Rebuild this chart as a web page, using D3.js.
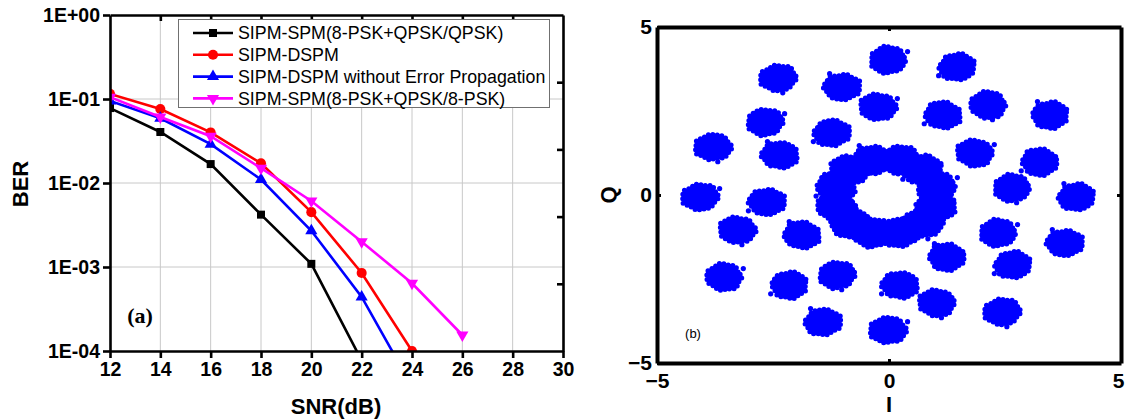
<!DOCTYPE html>
<html>
<head>
<meta charset="utf-8">
<script src="https://cdn.jsdelivr.net/npm/d3@7"></script>
<style>
  body { margin: 0; background: #fff; }
  svg { display: block; font-family: "Liberation Sans", Arial, sans-serif; }
</style>
</head>
<body>
<svg id="chart" width="1125" height="420"></svg>
<script>
// ---- panel (a): BER vs SNR ----
var snr = [12, 14, 16, 18, 20, 22, 24, 26];
var berSpmQpsk  = [7.8e-2, 4.05e-2, 1.68e-2, 4.2e-3, 1.09e-3, 7.7e-5];
var berDspm     = [1.15e-1, 7.6e-2, 4.0e-2, 1.72e-2, 4.5e-3, 8.5e-4, 1.0e-4];
var berDspmNoEP = [9.5e-2, 5.9e-2, 2.9e-2, 1.1e-2, 2.7e-3, 4.4e-4, 3.8e-5];
var berSpm8psk  = [1.05e-1, 6.1e-2, 3.6e-2, 1.5e-2, 6.1e-3, 2.0e-3, 6.4e-4, 1.55e-4];
var seriesNames = [
  "SIPM-SPM(8-PSK+QPSK/QPSK)",
  "SIPM-DSPM",
  "SIPM-DSPM without Error Propagation",
  "SIPM-SPM(8-PSK+QPSK/8-PSK)"
];
var xTicks = [12, 14, 16, 18, 20, 22, 24, 26, 28, 30];
var yTicks = [1e-4, 1e-3, 1e-2, 1e-1, 1];
var yTickLabels = ["1E-04", "1E-03", "1E-02", "1E-01", "1E+00"];

// ---- panel (b): constellation cluster centres (I, Q) ----
var outerI = [-0.02, 1.47, -2.39, -1.01, -0.24, 1.16, 2.13, 3.47, -2.67, -1.23, -3.79, -2.35, 1.85, 3.25, 2.65, 4.04,
              -4.07, -2.63, -3.27, -1.88, -3.56, -2.15, -1.12, -1.42, -0.02, 0.24, 1.03, 1.25, 2.35, 2.67, 2.44, 3.79];
var outerQ = [4.02, 3.81, 3.48, 3.21, 2.62, 2.38, 2.68, 2.38, 2.17, 1.85, 1.43, 1.19, 1.25, 0.98, 0.21, -0.06,
              -0.06, -0.21, -1.04, -1.19, -2.44, -2.68, -2.38, -3.78, -4.02, -2.68, -3.21, -1.85, -1.13, -2.08, -3.48, -1.43];
var innerI = [1.02, 0.73, 0.23, -0.35, -0.85, -1.14, -1.14, -0.85, -0.35, 0.23, 0.73, 1.02];
var innerQ = [0.25, 0.75, 1.04, 1.04, 0.75, 0.25, -0.33, -0.83, -1.12, -1.12, -0.83, -0.33];
var constTicks = [-5, 0, 5];

var svg = d3.select("#chart");

// ================= panel (a) =================
var x = d3.scaleLinear().domain([12, 30]).range([110, 563]);
var y = d3.scaleLog().domain([1e-4, 1]).range([351, 15]);

var ga = svg.append("g");

// grid
ga.append("g").selectAll("line.vg")
  .data(xTicks.slice(1, -1)).enter().append("line")
  .attr("x1", function(d) { return x(d); }).attr("x2", function(d) { return x(d); })
  .attr("y1", y(1)).attr("y2", y(1e-4))
  .attr("stroke", "#c8c8c8").attr("stroke-width", 1);
ga.append("g").selectAll("line.hg")
  .data(yTicks.slice(1, -1)).enter().append("line")
  .attr("x1", x(12)).attr("x2", x(30))
  .attr("y1", function(d) { return y(d); }).attr("y2", function(d) { return y(d); })
  .attr("stroke", "#c8c8c8").attr("stroke-width", 1);

svg.append("defs").append("clipPath").attr("id", "clipA")
  .append("rect").attr("x", x(12)).attr("y", y(1)).attr("width", x(30) - x(12)).attr("height", y(1e-4) - y(1));

var series = [
  { name: seriesNames[0], values: berSpmQpsk,  color: "#000000", sym: d3.symbolSquare,   size: 64, rot: 0 },
  { name: seriesNames[1], values: berDspm,     color: "#ff0000", sym: d3.symbolCircle,   size: 80, rot: 0 },
  { name: seriesNames[2], values: berDspmNoEP, color: "#0000ff", sym: d3.symbolTriangle, size: 64, rot: 0 },
  { name: seriesNames[3], values: berSpm8psk,  color: "#ff00ff", sym: d3.symbolTriangle, size: 64, rot: 180 }
];

var line = d3.line()
  .x(function(d, i) { return x(snr[i]); })
  .y(function(d) { return y(d); });

var plotA = ga.append("g").attr("clip-path", "url(#clipA)");
series.forEach(function(s) {
  plotA.append("path")
    .attr("d", line(s.values))
    .attr("fill", "none").attr("stroke", s.color).attr("stroke-width", 2.6);
  plotA.selectAll(null).data(s.values).enter().append("path")
    .attr("d", d3.symbol().type(s.sym).size(s.size))
    .attr("transform", function(d, i) { return "translate(" + x(snr[i]) + "," + y(d) + ") rotate(" + s.rot + ")"; })
    .attr("fill", s.color);
});

// axes
var axBottom = ga.append("g").attr("transform", "translate(0," + y(1e-4) + ")")
  .call(d3.axisBottom(x).tickValues(xTicks).tickSize(7).tickSizeOuter(0).tickPadding(4));
var axLeft = ga.append("g").attr("transform", "translate(" + x(12) + ",0)")
  .call(d3.axisLeft(y).tickValues(yTicks).tickFormat(function(d, i) { return yTickLabels[i]; })
    .tickSize(7).tickSizeOuter(0).tickPadding(3));
var axTop = ga.append("g").attr("transform", "translate(0," + y(1) + ")")
  .call(d3.axisTop(x).tickValues(xTicks.slice(1, -1)).tickSize(-6).tickSizeOuter(0).tickFormat(""));
var rightTicks = d3.range(1, 5).map(function(k) { return y(1e-4) - k * (y(1e-4) - y(1)) / 5; });
var axRight = ga.append("g").attr("transform", "translate(" + x(30) + ",0)")
  .call(d3.axisRight(d3.scaleIdentity().domain([y(1), y(1e-4)])).tickValues(rightTicks).tickSize(-6).tickSizeOuter(0).tickFormat(""));

[axBottom, axLeft, axTop, axRight].forEach(function(a) {
  a.select(".domain").attr("stroke", "#000").attr("stroke-width", 2.6);
  a.selectAll(".tick line").attr("stroke", "#000").attr("stroke-width", 2.6);
  a.selectAll(".tick text").attr("fill", "#000")
    .style("font-size", "19.5px").style("font-weight", "bold")
    .style("font-family", "'Liberation Sans', Arial, sans-serif");
});

// titles
ga.append("text").attr("x", 336).attr("y", 414).attr("text-anchor", "middle")
  .style("font-size", "22px").style("font-weight", "bold").text("SNR(dB)");
ga.append("text").attr("transform", "translate(28,184) rotate(-90)").attr("text-anchor", "middle")
  .style("font-size", "22px").style("font-weight", "bold").text("BER");
ga.append("text").attr("x", 140).attr("y", 323).attr("text-anchor", "middle")
  .style("font-family", "'Liberation Serif', 'Times New Roman', serif")
  .style("font-size", "22px").style("font-weight", "bold").text("(a)");

// legend
var lg = ga.append("g");
lg.append("rect").attr("x", 178.5).attr("y", 19.5).attr("width", 371).attr("height", 88)
  .attr("fill", "#fff").attr("stroke", "#707070").attr("stroke-width", 1);
series.forEach(function(s, i) {
  var ly = 33 + i * 21.8;
  lg.append("line").attr("x1", 193).attr("x2", 233).attr("y1", ly).attr("y2", ly)
    .attr("stroke", s.color).attr("stroke-width", 2.6);
  lg.append("path").attr("d", d3.symbol().type(s.sym).size(s.size))
    .attr("transform", "translate(213," + ly + ") rotate(" + s.rot + ")").attr("fill", s.color);
  lg.append("text").attr("x", 238).attr("y", ly).attr("dy", "0.35em")
    .style("font-size", "17.8px").attr("fill", "#000").text(s.name);
});

// ================= panel (b) =================
var ci = d3.scaleLinear().domain([-5, 5]).range([657, 1121]);
var cq = d3.scaleLinear().domain([-5, 5]).range([363, 27]);
var gb = svg.append("g");

// irregular cloud outline used for every cluster (styling only)
var blobShape = [1, 0.92, 1.06, 0.97, 1.1, 0.94, 1.03, 0.9, 1.05, 0.98, 1.08, 0.93, 1.02, 0.96];
var strayDots = [[0.42, 0.25], [-0.4, -0.26], [0.1, -0.44], [-0.27, 0.4]];

function drawCluster(cx, cy, r, k) {
  var pts = blobShape.map(function(f, j) {
    var rr = blobShape[(j + k) % blobShape.length] * r;
    var a = j / blobShape.length * 2 * Math.PI;
    return [ci(cx + rr * Math.cos(a)), cq(cy + rr * Math.sin(a))];
  });
  var p = d3.line().curve(d3.curveCatmullRomClosed)(pts);
  gb.append("path").attr("d", p)
    .attr("fill", "#0000ff").attr("stroke", "#0000ff")
    .attr("stroke-width", 5).attr("stroke-linecap", "round").attr("stroke-dasharray", "0 4.5");
  var sd = strayDots[k % strayDots.length];
  gb.append("circle").attr("cx", ci(cx + sd[0] * r / 0.38)).attr("cy", cq(cy + sd[1] * r / 0.38))
    .attr("r", 2.6).attr("fill", "#0000ff");
}

innerI.forEach(function(v, k) { drawCluster(v, innerQ[k], 0.41, k); });
outerI.forEach(function(v, k) { drawCluster(v, outerQ[k], 0.38, k); });

var bBottom = gb.append("g").attr("transform", "translate(0," + cq(-5) + ")")
  .call(d3.axisBottom(ci).tickValues(constTicks).tickSize(-4).tickSizeOuter(0).tickPadding(10));
var bLeft = gb.append("g").attr("transform", "translate(" + ci(-5) + ",0)")
  .call(d3.axisLeft(cq).tickValues(constTicks).tickSize(-4).tickSizeOuter(0).tickPadding(5));
var bTop = gb.append("g").attr("transform", "translate(0," + cq(5) + ")")
  .call(d3.axisTop(ci).tickValues([0]).tickSize(-4).tickSizeOuter(0).tickFormat(""));
var bRight = gb.append("g").attr("transform", "translate(" + ci(5) + ",0)")
  .call(d3.axisRight(cq).tickValues([0]).tickSize(-4).tickSizeOuter(0).tickFormat(""));

[bBottom, bLeft, bTop, bRight].forEach(function(a) {
  a.select(".domain").attr("stroke", "#000").attr("stroke-width", 4);
  a.selectAll(".tick line").attr("stroke", "#000").attr("stroke-width", 3);
  a.selectAll(".tick text").attr("fill", "#000")
    .style("font-size", "21px").style("font-weight", "bold")
    .style("font-family", "'Liberation Sans', Arial, sans-serif");
});
// keep the right-most "5" inside the page
bBottom.selectAll(".tick text").filter(function(d) { return d === 5; })
  .attr("text-anchor", "end").attr("x", 1125 - ci(5) - 1);

gb.append("text").attr("x", ci(0)).attr("y", 412).attr("text-anchor", "middle")
  .style("font-size", "22px").style("font-weight", "bold").text("I");
gb.append("text").attr("transform", "translate(616," + cq(0) + ") rotate(-90)").attr("text-anchor", "middle")
  .style("font-size", "22px").style("font-weight", "bold").text("Q");
gb.append("text").attr("x", 693).attr("y", 338).attr("text-anchor", "middle")
  .style("font-size", "13px").text("(b)");
</script>
</body>
</html>
